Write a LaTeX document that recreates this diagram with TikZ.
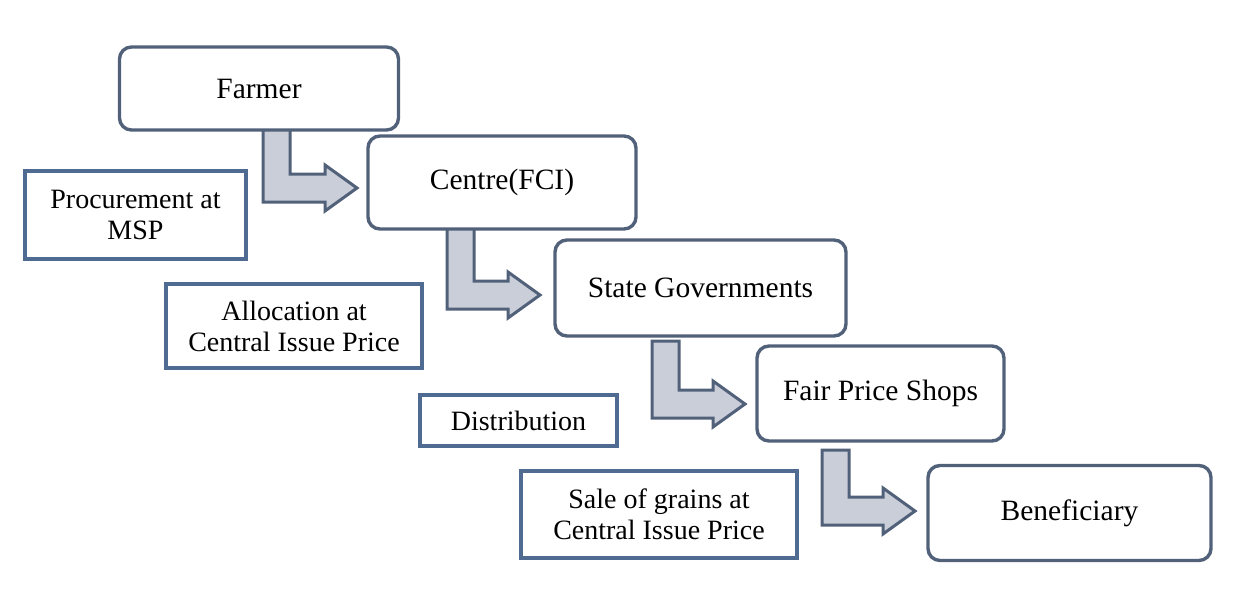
\documentclass[tikz,border=0pt]{standalone}
\usepackage{fontspec}
\setmainfont{Liberation Serif}
\definecolor{rborder}{HTML}{52617A}
\definecolor{sborder}{HTML}{4F6B92}
\definecolor{afill}{HTML}{C9CED9}
\begin{document}
\begin{tikzpicture}[x=1pt,y=-1pt,
  rbox/.style={draw=rborder,line width=3.4pt,rounded corners=12pt,fill=white,
    font=\fontsize{29.5}{35}\selectfont,inner sep=0pt},
  sbox/.style={draw=sborder,line width=4.2pt,fill=white,align=center,
    font=\fontsize{28}{31}\selectfont,inner sep=0pt},
  bentarrow/.style={draw=rborder,line width=3pt,fill=afill,line join=miter}]
\useasboundingbox (0,0) rectangle (1252,590);
% bent arrows: #1 shaft left x, #2 top y, #3 bar centre y, #4 head back x, #5 tip x
\newcommand{\bentarr}[5]{%
  \draw[bentarrow] (#1,#2) -- (#1,#3+14) -- (#4,#3+14) -- (#4,#3+23)
    -- (#5,#3) -- (#4,#3-23) -- (#4,#3-14) -- (#1+27,#3-14) -- (#1+27,#2) -- cycle;}
\bentarr{263}{128}{188}{325}{357}
\bentarr{447}{226}{295}{508}{540}
\bentarr{652}{341}{404}{713}{745}
\bentarr{822}{450}{511}{883}{915}
% main flow boxes
\node[rbox,minimum width=279pt,minimum height=83pt] (farmer) at (259,88.5) {Farmer};
\node[rbox,minimum width=268pt,minimum height=93pt] (centre) at (502,182.5) {Centre(FCI)};
\node[rbox,minimum width=291pt,minimum height=96pt] (state) at (700.5,288) {State Governments};
\node[rbox,minimum width=247pt,minimum height=95pt] (fps) at (880.5,393.5) {Fair Price Shops};
\node[rbox,minimum width=283pt,minimum height=95pt] (benef) at (1069.5,513) {Beneficiary};
% side labels
\node[sbox,minimum width=221pt,minimum height=88pt] (proc) at (135.5,215) {Procurement at\\MSP};
\node[sbox,minimum width=256pt,minimum height=84pt] (alloc) at (294,326) {Allocation at\\Central Issue Price};
\node[sbox,minimum width=197pt,minimum height=51pt] (dist) at (518.5,420.5) {Distribution};
\node[sbox,minimum width=276pt,minimum height=87pt] (sale) at (659,514.5) {Sale of grains at\\Central Issue Price};
\end{tikzpicture}
\end{document}
